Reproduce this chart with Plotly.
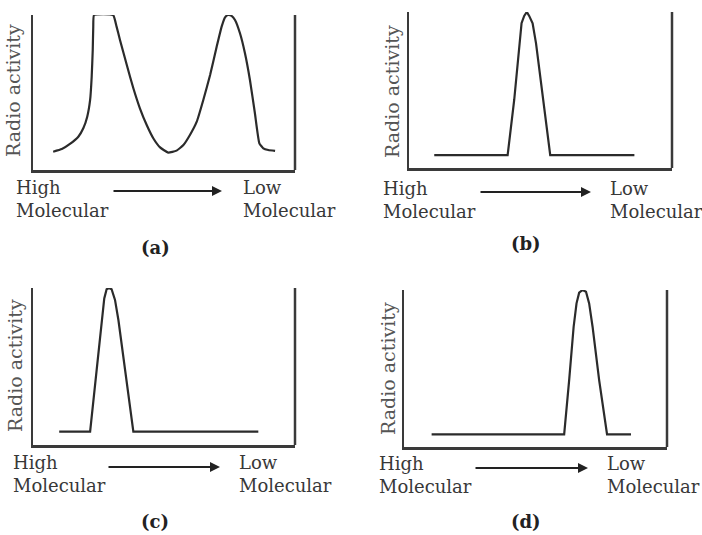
import plotly.graph_objects as go

W, H = 702, 535

# ---- data (x: position along elution axis 0-100, y: radio activity 0-100) ----
a_x = [7.7, 11.0, 14.1, 17.3, 19.2, 20.7, 21.8, 22.4, 22.8, 23.0, 23.3, 30.6, 31.9, 33.2,
       35.8, 38.3, 40.8, 43.4, 45.9, 48.5, 51.6, 54.8, 57.4, 59.9, 62.5, 65.0, 67.6, 70.1,
       72.0, 73.3, 74.5, 75.8, 77.1, 79.0, 80.9, 82.8, 84.7, 86.4, 87.9, 89.8, 92.4]
a_y = [11.8, 13.5, 16.8, 21.5, 26.9, 34.4, 45.2, 60.2, 77.4, 92.5, 100, 100, 92.5, 83.9,
       67.7, 52.7, 39.8, 29.0, 20.5, 14.6, 11.2, 12.5, 16.1, 22.6, 31.2, 45.2, 61.3, 79.5,
       92.5, 98.5, 100, 99.4, 96.8, 88.2, 75.3, 58.1, 36.6, 17.2, 14.0, 12.9, 12.3]

b_x = [9.6, 37.5, 40.0, 41.9, 42.8, 43.8, 44.8, 45.7, 47.0, 48.3, 50.8, 53.7, 85.7]
b_y = [8.3, 8.3, 43.6, 79.9, 92.8, 97.5, 100, 97.5, 92.8, 79.9, 45.7, 8.3, 8.3]

c_x = [10.0, 21.8, 24.3, 26.2, 27.2, 28.1, 29.0, 30.0, 31.3, 32.6, 35.1, 38.3, 86.0]
c_y = [8.5, 8.5, 47.8, 79.6, 93.4, 99.2, 100, 99.2, 92.4, 79.6, 47.8, 8.5, 8.5]

d_x = [10.5, 60.9, 62.8, 64.5, 65.6, 66.6, 67.9, 69.2, 70.4, 71.7, 74.2, 77.2, 86.3]
d_y = [8.1, 8.1, 42.6, 76.6, 91.5, 98.3, 100, 98.9, 91.5, 76.6, 42.6, 8.1, 8.1]

panel_labels = ["(a)", "(b)", "(c)", "(d)"]
y_title = "Radio activity"
left_label = "High<br>Molecular"
right_label = "Low<br>Molecular"

# ---- layout (pixel boxes of each panel) ----
# left, right, top, bottom of axis frame
boxes = [
    (33, 295, 15, 170),
    (409, 672, 12, 168),
    (33, 295, 288, 445),
    (404, 667, 290, 447),
]
# text positions: (high_left_x, low_left_x, label_center_y, arrow_x0, arrow_x1, arrow_y,
#                  panel_label_x, panel_label_y, ytitle_x, ytitle_y)
texts = [
    (14, 241, 199, 112, 222, 191, 155, 247, 13, 91),
    (381, 608, 200, 479, 591, 192, 526, 243, 392, 92),
    (11, 237, 474, 107, 220, 467, 155, 521, 15, 366),
    (377, 605, 475, 474, 588, 468, 526, 521, 388, 369),
]

series = [(a_x, a_y), (b_x, b_y), (c_x, c_y), (d_x, d_y)]
line_shapes = [("spline", 0.4), ("linear", 0), ("linear", 0), ("linear", 0)]

def px(x):
    return x / W

def py(y):
    return 1 - y / H

fig = go.Figure()
LINE = "#2b2b2b"
AX = "#3a3a3a"
TXT = "#383838"
FONT = "DejaVu Serif"

shapes = []
annotations = []
for i, ((xs, ys), box, t) in enumerate(zip(series, boxes, texts)):
    n = i + 1
    xa = "x" if n == 1 else f"x{n}"
    ya = "y" if n == 1 else f"y{n}"
    shp, sm = line_shapes[i]
    line = dict(color=LINE, width=2.2, shape=shp)
    if shp == "spline":
        line["smoothing"] = sm
    fig.add_trace(go.Scatter(x=xs, y=ys, mode="lines", xaxis=xa, yaxis=ya,
                             line=line, showlegend=False, hoverinfo="skip"))
    l, r, top, bot = box
    axkey = "xaxis" if n == 1 else f"xaxis{n}"
    aykey = "yaxis" if n == 1 else f"yaxis{n}"
    fig.layout[axkey] = dict(domain=[px(l), px(r)], range=[0, 100], anchor=ya,
                             showline=True, linecolor=AX, linewidth=2.5,
                             showgrid=False, zeroline=False, showticklabels=False, ticks="")
    fig.layout[aykey] = dict(domain=[py(bot), py(top)], range=[0, 100], anchor=xa,
                             showline=True, linecolor=AX, linewidth=2.5,
                             showgrid=False, zeroline=False, showticklabels=False, ticks="")
    # right-hand frame line
    shapes.append(dict(type="line", xref=f"{xa} domain", yref=f"{ya} domain",
                       x0=1, x1=1, y0=0, y1=1, line=dict(color=AX, width=2.5)))
    hx, lx, ly, ax0, ax1, ay, plx, ply, ytx, yty = t
    annotations.append(dict(text=left_label, x=px(hx), y=py(ly), xref="paper", yref="paper",
                            xanchor="left", yanchor="middle", align="left", showarrow=False,
                            font=dict(family=FONT, size=18, color=TXT)))
    annotations.append(dict(text=right_label, x=px(lx), y=py(ly), xref="paper", yref="paper",
                            xanchor="left", yanchor="middle", align="left", showarrow=False,
                            font=dict(family=FONT, size=18, color=TXT)))
    annotations.append(dict(text="", x=px(ax1), y=py(ay), xref="paper", yref="paper",
                            ax=-(ax1 - ax0), ay=0, axref="pixel", ayref="pixel",
                            showarrow=True, arrowhead=2, arrowsize=1, arrowwidth=2,
                            arrowcolor="#222222"))
    annotations.append(dict(text=f"<b>{panel_labels[i]}</b>", x=px(plx), y=py(ply),
                            xref="paper", yref="paper", xanchor="center", yanchor="middle",
                            showarrow=False, font=dict(family=FONT, size=18, color="#222222")))
    annotations.append(dict(text=y_title, x=px(ytx), y=py(yty), xref="paper", yref="paper",
                            xanchor="center", yanchor="middle", textangle=-90, showarrow=False,
                            font=dict(family=FONT, size=19, color="#555555")))

fig.update_layout(width=W, height=H, margin=dict(l=0, r=0, t=0, b=0),
                  paper_bgcolor="white", plot_bgcolor="white",
                  shapes=shapes, annotations=annotations)

fig.write_html("out.html", config={"displayModeBar": False, "staticPlot": True},
               post_script="document.body.style.margin='0';")
